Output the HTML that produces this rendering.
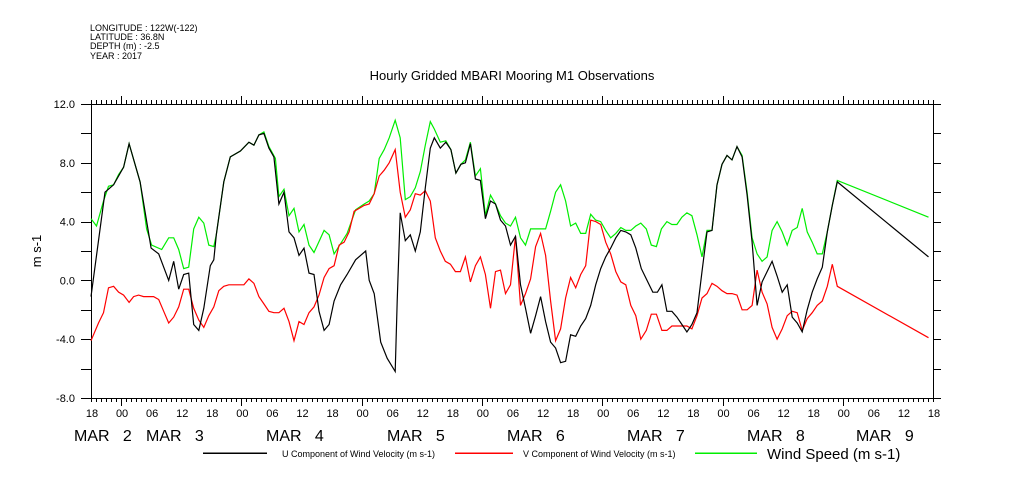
<!DOCTYPE html>
<html><head><meta charset="utf-8"><style>
body{margin:0;background:#fff;}
svg{display:block;font-family:"Liberation Sans",sans-serif;}
</style></head><body>
<svg id="chart" width="1009" height="504" xmlns="http://www.w3.org/2000/svg">
<rect width="1009" height="504" fill="#fff"/>
<g font-size="9" fill="#000">
<text x="90" y="31">LONGITUDE : 122W(-122)</text>
<text x="90" y="40">LATITUDE : 36.8N</text>
<text x="90" y="49">DEPTH (m) : -2.5</text>
<text x="90" y="59">YEAR : 2017</text>
</g>
<text x="512" y="80" font-size="13" text-anchor="middle">Hourly Gridded MBARI Mooring M1 Observations</text>
<text transform="translate(41,251) rotate(-90)" font-size="13" text-anchor="middle">m s-1</text>
<g id="axes"></g>
<g id="series"></g>
<g shape-rendering="crispEdges">
<line x1="203" y1="453" x2="267" y2="453" stroke="#000" stroke-width="1.5"/>
<text x="282" y="457" font-size="9">U Component of Wind Velocity (m s-1)</text>
<line x1="455" y1="453" x2="513" y2="453" stroke="#ff0000" stroke-width="1.5"/>
<text x="523" y="457" font-size="9">V Component of Wind Velocity (m s-1)</text>
<line x1="695" y1="453" x2="757" y2="453" stroke="#00ee00" stroke-width="1.5"/>
<text x="767" y="459" font-size="15">Wind Speed (m s-1)</text>
</g>
</svg>
<script>
const uHours=[0,2.8,4.5,6.5,7.6,9.8,12,13.5,15.5,16.5,17.5,18.5,19.5,20.5,21.5,22.5,23.8,24.5,25,26.5,27.8,29.8,31.5,32.5,33.5,34.5,35.5,36.5,37.5,38.5,39.5,40.5,41.5,42.5,43.5,44.5,45.5,46.5,47.5,48.5,49.8,51.1,52.8,54.8,55.5,56.5,57.8,59.1,60.7,61.1,61.7,62.7,63.7,64.7,65.7,66.7,67.7,68.5,69.7,70.8,71.8,72.8,73.8,74.7,75.7,76.7,77.7,78.7,79.7,80.7,81.7,82.7,83.7,84.7,85.7,86.7,87.7,88.7,89.7,90.7,91.7,92.7,93.7,94.7,95.7,96.7,97.7,98.7,99.7,100.7,101.7,102.7,103.7,104.7,105.7,106.7,107.7,108.7,109.8,110.8,112.1,113,113.9,114.9,115.9,116.9,117.9,118.9,119.9,120.9,121.9,122.9,123.9,124.9,125.9,126.9,127.9,128.9,129.9,130.9,131.9,132.9,133.9,134.9,135.9,136.9,137.9,138.9,139.9,140.9,141.9,142.9,143.9,144.9,145.9,146.9,147.9,148.9,167.1];
const uValues=[-1.1,6.0,6.5,7.7,9.3,6.7,2.2,1.8,0.0,1.3,-0.6,0.4,0.5,-3.0,-3.4,-1.9,1.0,1.4,3.1,6.7,8.4,8.8,9.4,9.2,9.9,10.0,9.0,8.4,5.2,6.0,3.3,2.9,1.7,2.2,0.5,0.4,-2.1,-3.4,-3.0,-1.4,-0.3,0.4,1.4,2.0,0.0,-0.9,-4.2,-5.3,-6.2,-1.4,4.6,2.7,3.1,2.0,3.3,6.3,9.0,9.7,9.0,9.4,8.9,7.3,7.9,8.0,9.3,6.9,6.8,4.2,5.4,5.2,4.1,3.7,2.4,3.0,-0.3,-1.9,-3.6,-2.4,-1.1,-2.8,-4.2,-4.6,-5.6,-5.5,-3.7,-3.8,-3.1,-2.6,-1.7,-0.3,0.8,1.6,2.2,2.9,3.4,3.3,3.1,2.2,0.8,0.1,-0.8,-0.8,-0.3,-2.1,-2.1,-2.5,-3.0,-3.5,-3.0,-2.2,0.6,3.3,3.4,6.5,7.9,8.5,8.2,9.1,8.4,5.8,2.6,-1.7,-0.1,0.6,1.3,0.3,-0.8,-0.3,-2.5,-2.9,-3.5,-2.0,-0.8,0.1,0.9,3.3,5.1,6.7,1.6];
const vHours=[0,1.5,2.5,3.5,4.5,5.5,6.5,7.6,8.5,9.5,10.5,12.5,13.5,14.5,15.5,16.5,17.5,18.5,19.5,20.5,21.5,22.5,23.5,24.5,25.5,26.5,27.5,29.5,30.5,31.5,32.5,33.5,34.5,35.5,36.5,37.5,38.5,39.5,40.5,41.5,42.5,43.5,44.5,45.5,46.5,47.5,48.5,49.5,50.5,51.5,52.5,54.5,55.5,56.5,57.5,58.5,59.5,60.7,61.7,62.7,63.7,64.7,65.7,66.7,67.7,68.7,69.7,70.7,71.7,72.7,73.7,74.7,75.7,76.7,77.7,78.7,79.7,80.7,81.7,82.7,83.7,84.7,85.7,86.7,87.7,88.7,89.7,90.7,91.7,92.7,93.7,94.7,95.7,96.7,97.7,98.7,99.7,100.7,101.7,102.7,103.7,104.7,105.7,106.7,107.7,108.7,109.7,110.8,111.8,112.8,113.9,114.9,115.9,117.9,118.9,119.9,120.9,121.9,122.9,123.9,124.9,125.9,126.9,127.9,128.9,129.9,130.9,131.9,132.9,133.9,134.9,135.9,136.9,137.9,138.9,139.9,140.9,141.9,142.9,143.9,144.9,145.9,146.9,147.9,148.9,167.1];
const vValues=[-4.1,-2.9,-2.2,-0.5,-0.4,-0.8,-1.0,-1.5,-1.1,-1.0,-1.1,-1.1,-1.3,-2.1,-2.9,-2.5,-1.8,-0.6,-0.6,-1.9,-2.7,-3.2,-2.4,-1.8,-0.7,-0.4,-0.3,-0.3,-0.3,0.1,-0.2,-1.1,-1.6,-2.1,-2.2,-2.2,-1.9,-2.8,-4.1,-2.8,-3.0,-2.2,-1.8,-1.0,0.2,0.8,1.0,2.4,2.6,3.3,4.7,5.1,5.2,5.9,7.1,7.5,8.0,8.9,6.0,4.3,4.8,5.9,5.8,6.1,5.4,2.9,2.0,1.3,1.1,0.6,0.6,1.6,-0.1,1.0,1.6,0.4,-1.9,0.6,0.7,-0.9,-0.3,3.0,-1.7,-0.9,0.1,2.3,3.2,1.7,-1.4,-4.1,-3.3,-1.2,0.2,-0.5,0.4,1.0,4.1,4.0,3.8,2.6,1.8,0.6,-0.1,-0.3,-1.7,-2.4,-4.0,-3.4,-2.3,-2.3,-3.4,-3.4,-3.1,-3.1,-3.1,-3.3,-2.4,-1.2,-0.9,-0.2,-0.4,-0.7,-0.9,-0.9,-1.0,-2.0,-2.0,-1.7,0.7,-0.8,-1.6,-3.2,-4.0,-3.3,-2.4,-2.1,-2.2,-3.4,-2.6,-2.2,-1.7,-1.4,-0.4,1.1,-0.4,-3.9];
const sHours=[0,1.1,2.5,3.5,4.5,5.5,6.5,7.6,9.8,11.1,12.1,14.1,15.5,16.5,17.5,18.5,19.5,20.5,21.5,22.5,23.5,24.5,25,26.5,27.8,29.8,31.5,32.5,33.5,34.5,35.5,36.8,37.5,38.5,39.5,40.5,41.5,42.5,43.5,44.5,46.5,47.5,48.5,49.8,51.1,52.8,54.5,55.5,56.5,57.5,58.5,59.5,60.7,61.7,62.7,63.7,64.7,65.7,66.7,67.7,68.5,69.7,70.8,71.8,72.8,73.8,74.7,75.7,76.7,77.7,78.7,79.7,80.7,81.7,82.7,83.7,84.7,85.7,86.7,87.7,90.7,91.7,92.7,93.7,94.7,95.7,96.7,97.7,98.7,99.7,100.7,101.7,102.7,103.7,104.7,105.7,106.7,107.7,108.7,109.7,110.8,111.8,112.8,113.8,114.9,115.9,116.9,117.9,118.9,119.9,120.9,121.9,122.9,123.9,124.9,125.9,126.9,127.9,128.9,129.9,130.9,131.9,132.9,133.9,134.9,135.9,136.9,137.9,138.9,139.9,140.9,141.9,142.9,143.9,144.9,145.9,146.9,147.9,148.9,167.1];
const sValues=[4.2,3.7,5.4,6.4,6.5,7.2,7.7,9.3,6.7,3.5,2.4,2.1,2.9,2.9,2.1,0.8,0.9,3.5,4.3,3.9,2.4,2.3,3.1,6.7,8.4,8.8,9.4,9.2,9.9,10.1,9.1,8.3,5.7,6.2,4.4,4.9,3.3,3.8,2.4,1.9,3.4,3.1,1.8,2.5,3.2,4.8,5.2,5.4,5.9,8.3,8.9,9.7,10.9,9.7,5.5,5.7,6.3,7.4,9.2,10.8,10.3,9.4,9.5,8.9,7.3,7.9,8.2,9.4,7.1,7.6,4.4,5.8,5.2,4.4,3.9,3.7,4.3,2.9,2.4,3.5,3.5,4.7,6.0,6.5,5.4,3.7,3.9,3.2,3.2,4.5,4.1,4.0,3.4,2.9,3.2,3.6,3.4,3.4,3.7,3.9,3.5,2.4,2.3,3.5,4.0,3.8,3.8,4.3,4.6,4.4,3.1,1.6,3.4,3.4,6.5,7.9,8.5,8.2,9.1,8.5,6.0,2.9,1.8,1.3,1.6,3.4,4.0,3.3,2.4,3.4,3.6,4.9,3.3,2.6,1.8,1.8,3.3,5.1,6.8,4.3];
const yTicks=[12,8,4,0,-4,-8];
const yTickLabels=["12.0","8.0","4.0","0.0","-4.0","-8.0"];
const hourLabels=["18","00","06","12"];
const dayLabels=["MAR  2","MAR  3","MAR  4","MAR  5","MAR  6","MAR  7","MAR  8","MAR  9"];

const NS="http://www.w3.org/2000/svg";
const L=91,R=933,T=104,B=398;
const xS=h=>L+h*5.012;
const yS=v=>T+(12-v)*(B-T)/20;
function mk(tag,attrs,parent){const e=document.createElementNS(NS,tag);for(const k in attrs)e.setAttribute(k,attrs[k]);parent.appendChild(e);return e;}
const axes=document.getElementById('axes');
const frame=mk('rect',{x:L+0.5,y:T+0.5,width:R-L,height:B-T,fill:'none',stroke:'#000'},axes);


for(let h=0;h<=168;h++){
  const x=Math.round(xS(h))+0.5;const major=((h+18)%24===0);
  const tt=mk('line',{x1:x,y1:T,x2:x,y2:T-(major?8:4),stroke:'#000'},axes);
  
  
  const bt=mk('line',{x1:x,y1:B,x2:x,y2:B+(major?8:4),stroke:'#000'},axes);
  
  
}
for(let v=-8;v<=12;v+=2){
  const y=Math.round(yS(v))+0.5;
  const lt=mk('line',{x1:L-10,y1:y,x2:L,y2:y,stroke:'#000'},axes);
  
  
  const rt=mk('line',{x1:R,y1:y,x2:R+8,y2:y,stroke:'#000'},axes);
  
  
}
yTicks.forEach((v,i)=>{
  const t=mk('text',{x:75,y:yS(v)+4,'font-size':11,'text-anchor':'end'},axes);
  t.textContent=yTickLabels[i];
  
  
});
for(let k=0;k<=28;k++){
  const t=mk('text',{x:xS(k*6)+1,y:417,'font-size':11,'text-anchor':'middle'},axes);
  t.textContent=hourLabels[k%4];
  
  
}
const dayX=[74,146,266,387,507,627,747,856];
dayLabels.forEach((d,i)=>{
  const t=mk('text',{x:dayX[i],y:441,'font-size':16},axes);
  t.setAttribute('style','white-space:pre');
  t.textContent=d.replace('  ','\u00a0\u00a0\u00a0');
  
  
});
const series=document.getElementById('series');
function line(hs,vs,color,name){
  const p=mk('polyline',{points:hs.map((h,i)=>xS(h).toFixed(1)+','+yS(vs[i]).toFixed(1)).join(' '),fill:'none',stroke:color,'stroke-width':1.2},series);
  
  
}
line(sHours,sValues,'#00ee00','wind-speed-line');
line(vHours,vValues,'#ff0000','v-component-line');
line(uHours,uValues,'#000000','u-component-line');
</script>
</body></html>
